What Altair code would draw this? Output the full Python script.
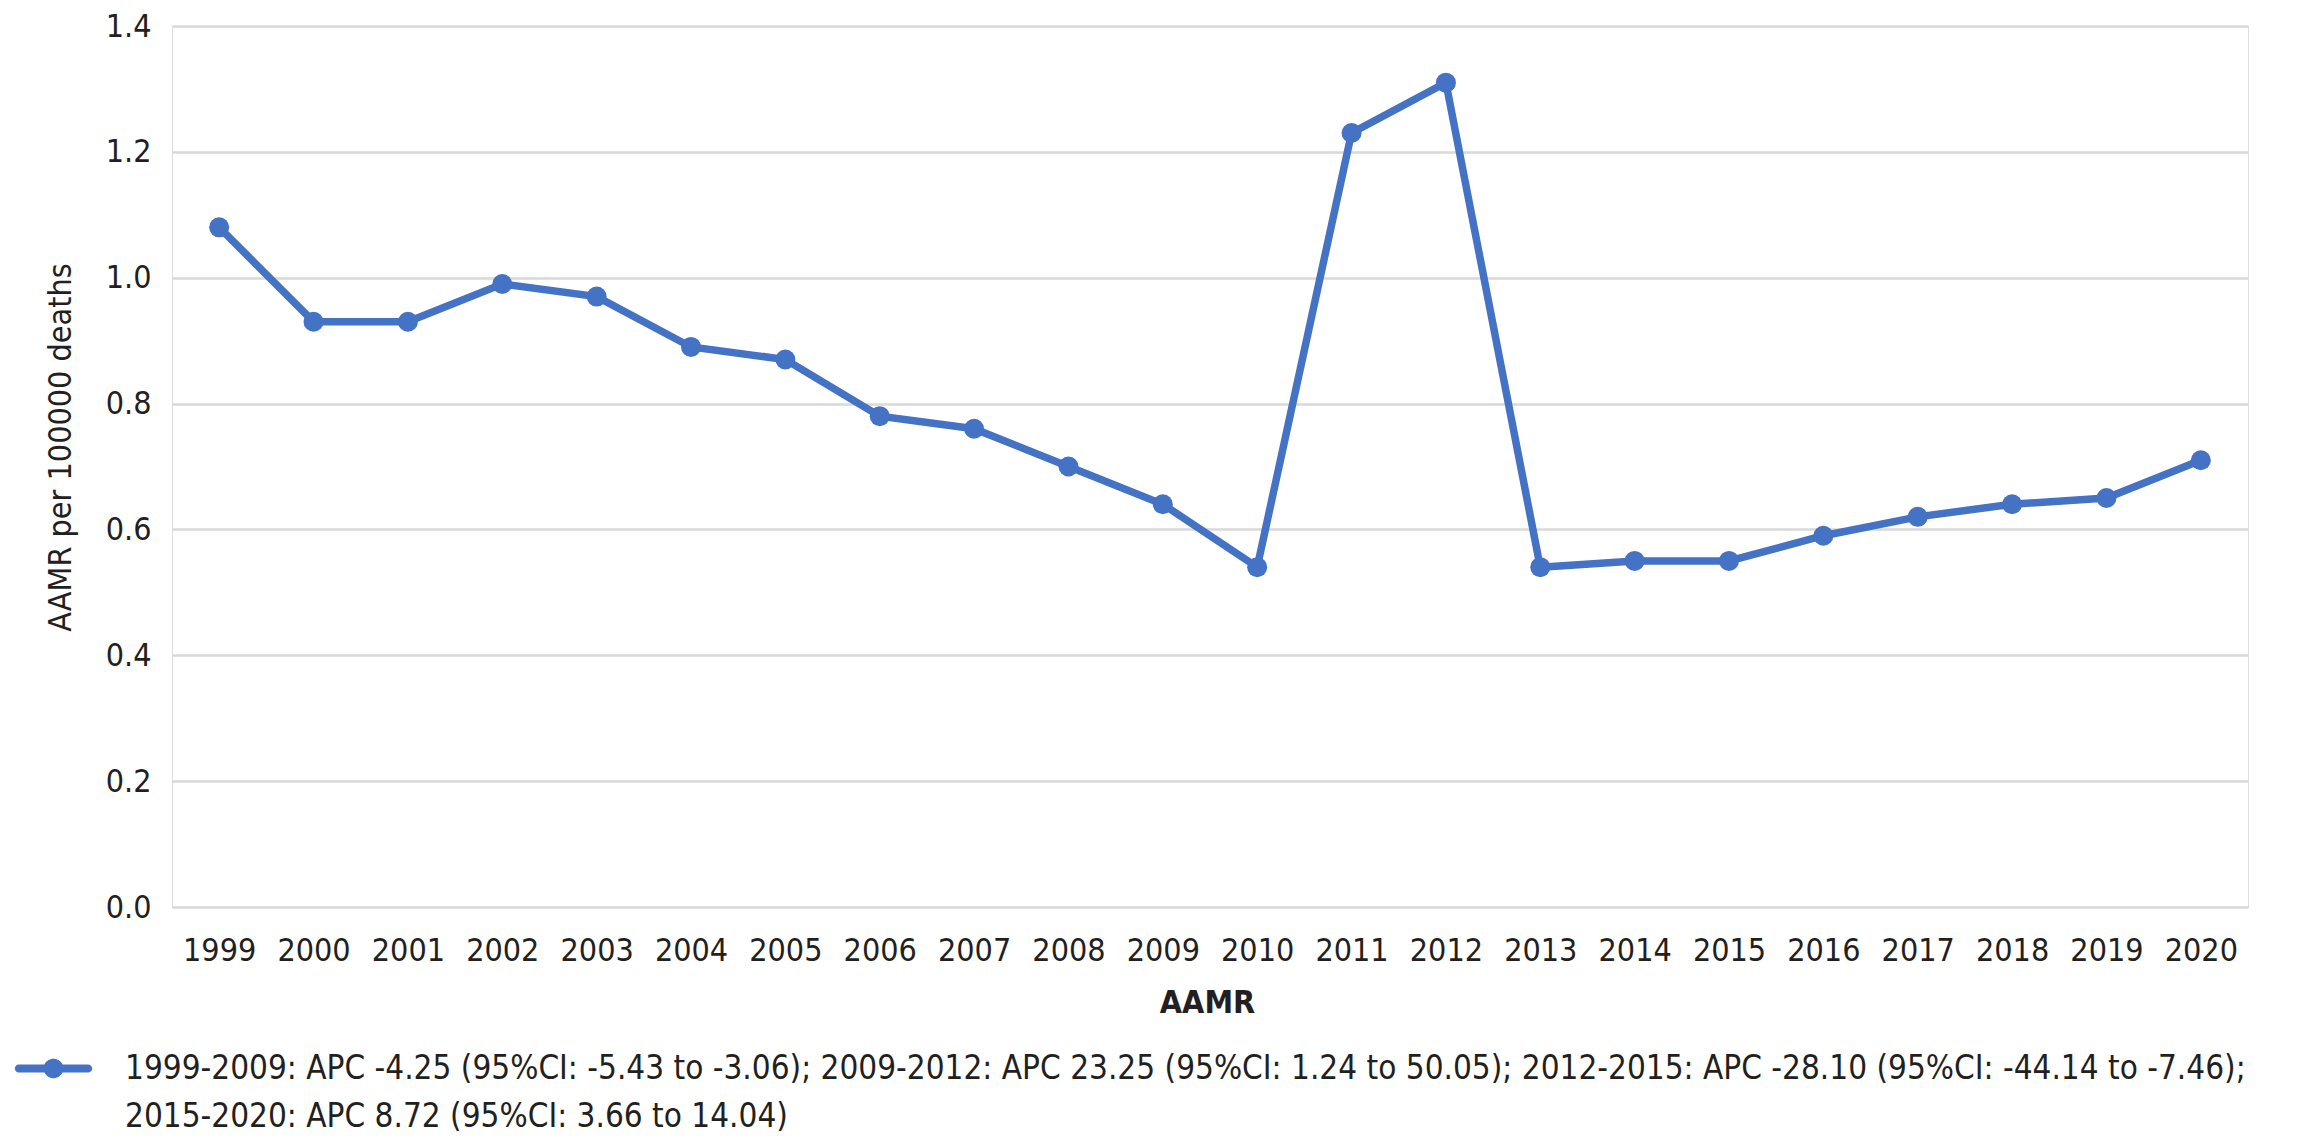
import altair as alt
import pandas as pd

years = ["1999", "2000", "2001", "2002", "2003", "2004", "2005", "2006", "2007", "2008",
         "2009", "2010", "2011", "2012", "2013", "2014", "2015", "2016", "2017", "2018",
         "2019", "2020"]
aamr = [1.08, 0.93, 0.93, 0.99, 0.97, 0.89, 0.87, 0.78, 0.76, 0.70,
        0.64, 0.54, 1.23, 1.31, 0.54, 0.55, 0.55, 0.59, 0.62, 0.64,
        0.65, 0.71]
series_label = ("1999-2009: APC -4.25 (95%CI: -5.43 to -3.06); 2009-2012: APC 23.25 (95%CI: 1.24 to 50.05); "
                "2012-2015: APC -28.10 (95%CI: -44.14 to -7.46);|2015-2020: APC 8.72 (95%CI: 3.66 to 14.04)")
y_ticks = [0.0, 0.2, 0.4, 0.6, 0.8, 1.0, 1.2, 1.4]

df = pd.DataFrame({"year": years, "aamr": aamr, "series": [series_label] * len(years)})

BLUE = "#4472C4"
TXT = "#231F20"
FONT = "DejaVu Sans Condensed, Liberation Sans, sans-serif"

# legend symbol: line with a dot
sym_path = ("M-0.9,-0.105 L-0.235,-0.105 A0.26,0.26 0 0 1 0.235,-0.105 L0.9,-0.105 "
            "A0.105,0.105 0 0 1 0.9,0.105 L0.235,0.105 A0.26,0.26 0 0 1 -0.235,0.105 "
            "L-0.9,0.105 A0.105,0.105 0 0 1 -0.9,-0.105 Z")

x_enc = alt.X("year:O", sort=years,
              scale=alt.Scale(paddingOuter=0.5),
              axis=alt.Axis(title="AAMR", labelAngle=0, labelFontSize=32, labelColor=TXT,
                            labelFont=FONT, labelPadding=28, ticks=False, domain=False,
                            grid=False, titleFontSize=32, titleFont=FONT, titleFontWeight="bold",
                            titleColor=TXT, titleX=1035, titleY=95, titleBaseline="middle",
                            titleAlign="center"))
y_enc = alt.Y("aamr:Q",
              scale=alt.Scale(domain=[0, 1.4], nice=False),
              axis=alt.Axis(title="AAMR per 100000 deaths", values=y_ticks, format=".1f",
                            labelFontSize=32, labelColor=TXT, labelFont=FONT, labelPadding=21,
                            ticks=False, domain=False, gridColor="#D9D9D9", gridWidth=2.5,
                            titleFontSize=32, titleFont=FONT, titleFontWeight="normal",
                            titleColor=TXT, titleX=-112, titleY=421, titleAngle=-90,
                            titleBaseline="middle", titleAlign="center"))

line = alt.Chart(df).mark_line(color=BLUE, strokeWidth=7.5).encode(x=x_enc, y=y_enc)

points = alt.Chart(df).mark_point(filled=True, opacity=1, size=400, shape="circle").encode(
    x=alt.X("year:O", sort=years),
    y=alt.Y("aamr:Q"),
    color=alt.Color("series:N", scale=alt.Scale(range=[BLUE]),
                    legend=alt.Legend(title=None, orient="none", legendX=-157, legendY=1004,
                                      padding=0, symbolType=sym_path, symbolSize=5929,
                                      symbolStrokeWidth=0, labelFontSize=33, labelFont=FONT,
                                      labelColor=TXT, labelLimit=3000, labelOffset=33,
                                      labelBaseline="middle",
                                      labelExpr="split(datum.label, '|')")),
)

chart = alt.layer(line, points).properties(
    width=2076, height=881,
    autosize=alt.AutoSizeParams(type="none"),
    padding={"left": 164, "top": 18, "right": 40, "bottom": 226},
).configure_view(stroke=None).configure(
    font=FONT,
    style={"guide-label": {"lineHeight": 48}},
)

chart.save("out.html", embed_options={"renderer": "svg", "actions": False})
